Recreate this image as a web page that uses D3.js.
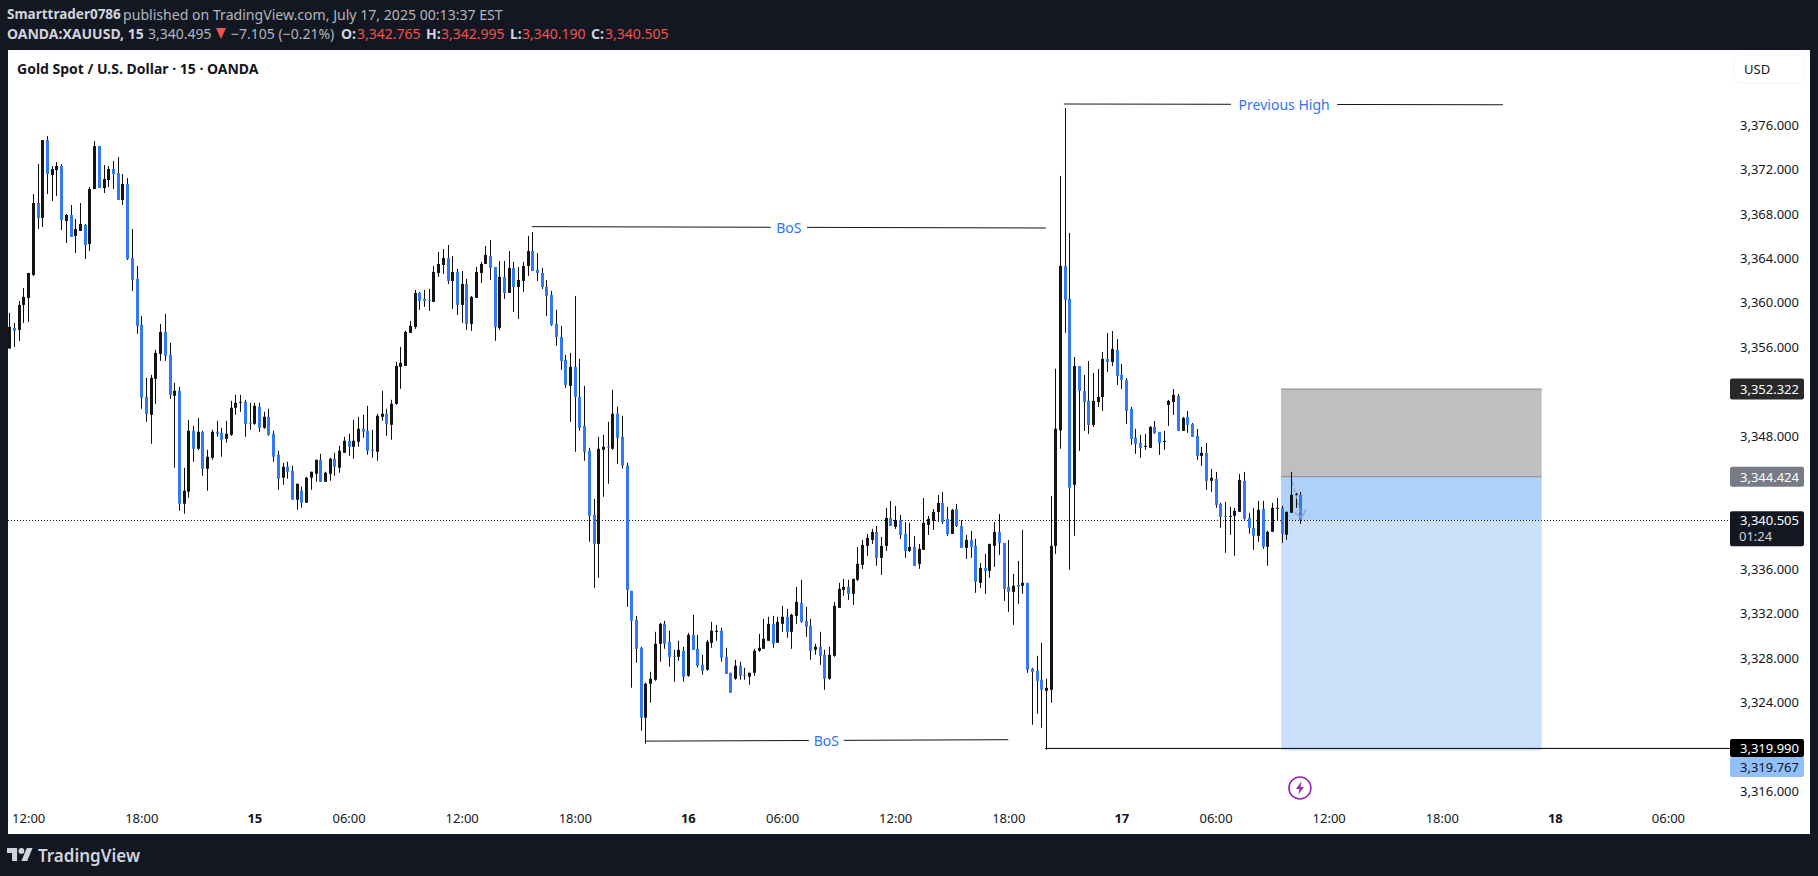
<!DOCTYPE html>
<html><head><meta charset="utf-8">
<style>html,body{margin:0;padding:0;background:#131722;overflow:hidden}svg{display:block}text{font-family:"Noto Sans",Roboto,sans-serif}</style>
<script src="https://cdnjs.cloudflare.com/ajax/libs/d3/7.9.0/d3.min.js"></script>
</head><body><svg id="c" width="1818" height="876"></svg>
<script>
const opens=[3355.97,3357.83,3357.65,3359.9,3360.53,3362.6,3369.08,3367.73,3374.75,3371.6,
3372.05,3372.41,3367.46,3368,3366.11,3366.56,3367.1,3365.39,3370.34,3374.21,
3370.43,3371.15,3372.14,3371.78,3369.35,3370.79,3364.13,3362.24,3358.1,3351.62,
3350,3353.24,3355.49,3357.47,3355.4,3351.71,3352.16,3341.99,3343.07,3348.56,
3346.94,3348.47,3345.14,3346.13,3348.47,3348.38,3347.84,3348.2,3350.63,3351.08,
3351.17,3349.28,3349.19,3350.72,3348.83,3349.82,3348.29,3346.4,3344.33,3345.32,
3344.96,3342.35,3343.16,3342.08,3344.33,3344.69,3345.95,3343.97,3344.69,3346.04,
3345.23,3346.58,3347.66,3347.12,3347.57,3348.74,3348.56,3346.85,3346.67,3349.82,
3350.09,3349.1,3350.99,3354.32,3354.41,3357.38,3357.92,3360.98,3360.44,3360.35,
3360.17,3362.78,3363.5,3364.13,3362.06,3362.87,3359.9,3361.79,3358.19,3360.53,
3362.78,3363.59,3364.31,3363.32,3357.83,3362.42,3360.98,3363.23,3361.52,3362.06,
3363.41,3364.76,3363.05,3362.78,3361.52,3360.8,3358.19,3357.02,3354.95,3352.61,
3354.32,3351.62,3349.01,3346.76,3340.98,3338.37,3346.85,3347.12,3346.94,3350.09,
3348.02,3345.41,3334.14,3331.53,3329.01,3322.71,3325.77,3326.13,3329.37,3331.17,
3329.55,3328.29,3328.2,3328.74,3326.49,3330.18,3328.92,3327.48,3327.03,3329.46,
3330.45,3330.54,3328.2,3326.76,3326.22,3327.39,3326.58,3326.4,3326.76,3328.74,
3328.92,3329.64,3331.17,3329.46,3331.17,3331.8,3330.45,3331.89,3333.06,3331.44,
3330.99,3328.83,3329.1,3328.38,3326.22,3328.29,3332.61,3334.23,3334.5,3333.87,
3335.13,3336.48,3338.19,3338.73,3339.45,3337.11,3338.19,3340.71,3339.9,3340.53,
3339.27,3337.74,3338.1,3336.57,3337.83,3340.08,3340.44,3341.25,3342.06,3340.62,
3339.27,3341.52,3339.99,3338.01,3338.73,3338.19,3334.86,3336.21,3335.94,3338.19,
3339.45,3338.46,3334.5,3334.05,3334.68,3334.59,3334.86,3327.12,3326.94,3326.13,
3325.14,3325.23,3338.19,3348.6,3363.42,3360.45,3343.69,3354.4,3352.15,3351.25,
3349.09,3351.16,3351.61,3355.03,3354.76,3355.84,3353.59,3353.14,3350.53,3347.92,
3347.47,3347.11,3347.02,3348.91,3348.46,3347.56,3350.89,3351.16,3351.7,3348.55,
3349.81,3349.18,3348.1,3346.3,3346.57,3344.05,3344.23,3341.98,3340.9,3340.81,
3340.9,3341.26,3344.05,3340.72,3339.82,3339.1,3341.53,3338.11,3339.46,3341.53,
3341.62,3339.19,3341.17,3342.79,3342.79];
const highs=[3359.18,3358.28,3360.26,3361.43,3362.78,3369.89,3372.59,3374.75,3375.11,3372.41,
3372.77,3372.59,3368.09,3368.9,3367.64,3369.08,3367.19,3370.52,3374.66,3374.21,
3372.5,3372.41,3372.86,3373.22,3371.69,3371.33,3366.74,3363.41,3358.91,3353.33,
3353.6,3355.85,3358.19,3359.09,3356.48,3352.88,3352.52,3345.23,3349.55,3349.01,
3349.73,3348.56,3346.85,3348.65,3349.46,3348.83,3349.46,3351.26,3351.8,3351.8,
3351.35,3351.08,3351.08,3351.08,3350.27,3350.54,3348.56,3346.76,3345.68,3345.77,
3345.41,3343.79,3343.52,3344.42,3344.87,3345.95,3346.49,3344.87,3346.13,3346.58,
3347.21,3348.02,3348.29,3349.55,3349.82,3350,3350.81,3348.65,3350.09,3352.16,
3350.54,3351.35,3354.77,3356.12,3357.56,3358.46,3361.25,3361.07,3361.25,3361.34,
3363.41,3364.67,3364.94,3365.3,3364.31,3363.14,3362.96,3362.24,3360.71,3363.32,
3363.77,3365.21,3365.75,3363.32,3363.86,3363.86,3364.76,3363.77,3363.32,3363.77,
3366.11,3366.47,3364.58,3363.23,3362.15,3361.16,3359.45,3358.01,3355.4,3355.58,
3360.71,3355.04,3352.61,3347.03,3342.42,3348.02,3348.2,3349.37,3352.25,3350.72,
3349.91,3345.68,3334.14,3331.89,3329.1,3325.86,3326.85,3330.45,3331.26,3331.44,
3330.54,3328.83,3329.64,3329.1,3330.36,3331.98,3330.18,3328.38,3329.73,3331.35,
3331.08,3330.81,3329.01,3326.76,3327.93,3327.75,3327.21,3326.76,3328.92,3330.27,
3331.62,3331.8,3331.89,3331.8,3332.79,3332.52,3332.07,3334.5,3335.13,3332.7,
3331.62,3329.37,3330.45,3328.83,3329.1,3333.15,3334.86,3335.22,3335.13,3335.22,
3338.1,3338.73,3339.27,3339.72,3339.99,3339,3341.61,3342.24,3341.79,3340.98,
3340.35,3340.26,3339.09,3338.37,3342.51,3340.89,3341.52,3342.78,3343.05,3341.7,
3341.52,3341.97,3340.53,3339.18,3339.54,3338.82,3336.66,3337.47,3338.37,3340.35,
3341.07,3338.46,3338.73,3335.67,3336.84,3339.63,3334.86,3327.21,3328.29,3329.46,
3326.22,3342.69,3354.15,3371.52,3377.64,3366.39,3355.21,3354.4,3353.59,3354.85,
3353.77,3354.13,3355.66,3357.37,3357.55,3356.83,3354.58,3353.32,3350.71,3348.73,
3348.19,3348.28,3349,3349.45,3348.46,3348.55,3351.34,3352.33,3351.88,3349.81,
3350.35,3349.27,3348.73,3347.11,3347.47,3345.13,3344.86,3342.07,3342.16,3341.71,
3341.62,3344.68,3344.86,3341.17,3341.62,3342.25,3342.25,3339.55,3342.07,3342.52,
3341.8,3341.26,3344.86,3342.97,3343.06];
const lows=[3355.97,3356.12,3356.66,3358.28,3358.37,3362.51,3366.74,3366.92,3369.89,3369.26,
3369.71,3366.65,3365.48,3366.02,3364.58,3366.56,3364.04,3364.76,3370.34,3370.43,
3369.98,3370.52,3370.34,3369.35,3368.9,3363.95,3361.16,3357.29,3350.54,3349.37,
3347.39,3350.99,3354.86,3354.86,3351.44,3345.23,3341.36,3341.09,3342.53,3345.77,
3346.85,3344.51,3343.16,3345.95,3348.02,3346.22,3347.48,3348.11,3350,3350.27,
3348.02,3348.65,3349.1,3348.47,3348.74,3348.11,3345.77,3343.25,3343.7,3344.24,
3342.35,3341.45,3341.63,3342.08,3343.25,3343.97,3343.97,3343.97,3344.06,3344.51,
3344.78,3346.58,3346.31,3346.04,3347.12,3347.93,3346.4,3346.13,3345.86,3349.46,
3348.11,3347.75,3350.9,3352.34,3354.41,3357.38,3357.74,3359.45,3359.72,3359.36,
3360.17,3362.42,3362.69,3361.79,3359.54,3359,3358.28,3357.65,3357.56,3360.53,
3361.88,3363.59,3362.15,3356.66,3357.65,3360.44,3360.98,3359.27,3358.64,3361.07,
3362.51,3362.96,3362.06,3361.34,3358.91,3358.01,3356.21,3354.05,3352.43,3349.37,
3346.67,3348.56,3345.86,3338.57,3334.41,3335.31,3342.62,3343.79,3346.85,3345.59,
3345.14,3332.7,3325.41,3327.66,3321.54,3320.37,3324.06,3326.04,3327.75,3328.92,
3327.3,3325.95,3327.84,3325.95,3326.4,3328.83,3327.21,3326.58,3326.94,3329.01,
3329.64,3327.75,3326.67,3324.96,3326.13,3326.13,3326.13,3325.68,3326.49,3328.65,
3328.92,3329.64,3329.01,3329.46,3330.45,3329.91,3328.92,3331.17,3331.26,3330,
3327.93,3328.38,3327.48,3325.23,3326.13,3328.2,3332.61,3333.69,3333.33,3332.88,
3335.04,3336.12,3337.29,3338.37,3336.39,3335.58,3337.74,3339.99,3339.72,3338.82,
3337.11,3337.65,3336.39,3336.12,3337.83,3339.18,3339.63,3340.35,3340.17,3339.09,
3339.27,3339.9,3338.01,3337.02,3337.11,3333.96,3334.41,3333.87,3335.31,3336.3,
3337.38,3333.24,3332.25,3331.08,3332.97,3333.87,3326.76,3322.08,3323.07,3321.81,
3319.83,3324.06,3337.47,3346.95,3357.39,3336.04,3339.1,3346.75,3348.55,3348.28,
3348.91,3350.71,3350.35,3353.86,3354.4,3352.69,3352.33,3349.18,3347.29,3346.48,
3346.12,3346.84,3347.02,3348.28,3346.39,3346.84,3349,3349.99,3348.55,3348.55,
3348.37,3348.01,3345.94,3345.4,3343.24,3343.06,3341.62,3339.82,3337.57,3339.19,
3337.3,3341.26,3340.54,3339.28,3337.84,3338.56,3337.93,3336.4,3339.46,3340.45,
3338.47,3338.74,3341.17,3341.62,3340.18];
const closes=[3357.92,3357.56,3359.9,3360.62,3362.78,3369.08,3367.73,3374.75,3371.69,3372.14,
3372.41,3367.55,3368,3366.02,3366.74,3367.19,3365.3,3370.34,3374.21,3370.43,
3371.24,3372.14,3371.69,3369.35,3370.79,3364.04,3362.15,3358.01,3351.53,3350.09,
3353.33,3355.58,3357.47,3355.31,3351.8,3352.16,3341.99,3343.16,3348.56,3346.94,
3348.47,3345.14,3346.22,3348.47,3348.29,3347.75,3348.29,3350.63,3351.08,3351.17,
3349.19,3349.19,3350.81,3348.83,3349.82,3348.2,3346.22,3344.24,3345.32,3344.87,
3342.35,3343.79,3342.08,3344.33,3344.87,3345.95,3343.97,3344.78,3346.04,3345.32,
3346.76,3347.66,3347.12,3347.66,3348.74,3348.47,3346.76,3346.76,3349.91,3350.09,
3349.19,3350.99,3354.41,3354.68,3357.47,3358.01,3360.98,3360.26,3360.26,3360.26,
3362.87,3363.59,3364.13,3362.06,3362.87,3359.9,3361.79,3358.19,3360.62,3362.87,
3363.59,3364.4,3363.23,3357.92,3362.42,3360.98,3363.23,3361.52,3362.15,3363.41,
3364.76,3362.96,3362.78,3361.52,3360.71,3358.1,3357.02,3354.86,3352.7,3354.32,
3351.62,3348.83,3346.67,3340.91,3338.37,3346.94,3347.12,3347.03,3350.09,3347.93,
3345.41,3334.23,3331.44,3328.92,3322.71,3325.77,3326.22,3329.37,3331.17,3329.37,
3328.2,3328.2,3328.83,3326.4,3330.18,3328.83,3327.39,3326.94,3329.55,3330.54,
3330.54,3328.11,3326.67,3324.96,3327.39,3326.49,3326.49,3326.76,3328.74,3329.01,
3329.82,3331.17,3329.37,3331.35,3331.8,3330.45,3331.98,3333.15,3331.35,3330.9,
3328.74,3329.1,3328.29,3326.22,3328.38,3332.79,3334.32,3334.5,3333.87,3335.22,
3336.57,3338.28,3338.91,3339.45,3337.11,3338.19,3340.71,3339.99,3340.53,3339.18,
3337.74,3338.1,3336.39,3337.92,3340.26,3340.62,3341.25,3342.06,3340.35,3339.27,
3341.43,3339.99,3338.01,3338.73,3338.1,3334.95,3336.21,3335.94,3338.37,3339.45,
3338.46,3334.32,3334.05,3334.59,3334.5,3334.86,3327.03,3326.85,3326.04,3325.23,
3325.41,3338.19,3348.75,3363.42,3360.36,3343.44,3354.4,3352.15,3351.16,3349.09,
3351.25,3351.61,3355.03,3354.76,3355.93,3353.5,3353.14,3350.35,3347.83,3347.38,
3347.02,3347.2,3348.91,3348.37,3347.47,3347.65,3351.25,3351.79,3348.55,3349.72,
3349.09,3348.01,3346.3,3346.57,3344.05,3344.32,3341.89,3340.81,3340.81,3340.9,
3341.35,3344.14,3340.63,3339.82,3339.1,3341.44,3338.11,3339.46,3341.62,3341.62,
3339.28,3341.26,3342.79,3342.88,3340.54];

const priceTicks=[3376,3372,3368,3364,3360,3356,3348,3336,3332,3328,3324,3316];
const timeBars=[4,28,52,72,96,120,144,164,188,212,236,256,280,304,328,352];
const timeLabels=["12:00","18:00","15","06:00","12:00","18:00","16","06:00","12:00","18:00","17","06:00","12:00","18:00","18","06:00"];
const boldTimes=["15","16","17","18"];
const lastPrice=3340.505, stopPrice=3352.322, entryPrice=3344.424, targetPrice=3319.767, swingLow=3319.99;
const positionBars=[269.9,325.2];
const trendLabels=[
 {text:"Previous High",b0:223.8,b1:317,p0:3378.0,p1:3377.93,g0:259.3,g1:281.8},
 {text:"BoS",b0:110.9,b1:220,p0:3366.95,p1:3366.83,g0:161.6,g1:169.3},
 {text:"BoS",b0:134.9,b1:212,p0:3320.6,p1:3320.73,g0:169.7,g1:177.1}];

const INK="#131722",BLUE="#3179f5",CANDLE="#141414",W=1818,H=876;
const L=8,T=50,R=1810,B=834,AX=1730;
const x=d3.scaleLinear().domain([0,352]).range([9.3,9.3+352*4.712]);
const y=d3.scaleLinear().domain([3316,3376]).range([792.2,126.2]);
const fmt=d3.format(",.3f");
const svg=d3.select("#c");
svg.append("rect").attr("width",W).attr("height",H).attr("fill","#131722");
svg.append("rect").attr("x",L).attr("y",T).attr("width",R-L).attr("height",B-T).attr("fill","#fff");
svg.append("defs").append("clipPath").attr("id","pane").append("rect").attr("x",L).attr("y",T).attr("width",AX-L).attr("height",B-T-30);

// header
function txt(g,s,px,py,o={}){return g.append("text").attr("x",px).attr("y",py).text(s)
  .attr("font-size",o.size||13).attr("font-weight",o.w||400).attr("fill",o.c||"#d1d4dc").attr("text-anchor",o.a||"start").attr("dominant-baseline","central");}
const head=svg.append("g");
txt(head,"Smarttrader0786",7,14,{w:700,size:13.5});
txt(head,"published on TradingView.com, July 17, 2025 00:13:37 EST",123,14,{c:"#b2b5be",size:14.1});
txt(head,"OANDA:XAUUSD, 15",7,33,{w:700,size:14});
txt(head,"3,340.495",148,33,{c:"#b2b5be",size:14});
head.append("path").attr("d","M216 28h10l-5 11z").attr("fill","#f05350");
txt(head,"−7.105 (−0.21%)",231,33,{c:"#b2b5be",size:14});
[["O:",341,"3,342.765",357],["H:",426,"3,342.995",441],["L:",510,"3,340.190",522],["C:",591,"3,340.505",605]].forEach(d=>{
  txt(head,d[0],d[1],33,{w:700,size:14});txt(head,d[2],d[3],33,{c:"#f05350",size:14});});
txt(svg,"Gold Spot / U.S. Dollar · 15 · OANDA",17,68,{w:700,c:INK,size:14});

// position tool
const px0=x(positionBars[0]),px1=x(positionBars[1]);
const zones=[[stopPrice,entryPrice,"#bfbfbf"],[entryPrice,lastPrice,"#aed0f9"],[lastPrice,targetPrice,"#cae0fb"]];
svg.append("g").selectAll("rect").data(zones).join("rect")
 .attr("x",px0).attr("width",px1-px0).attr("y",d=>y(d[0])).attr("height",d=>y(d[1])-y(d[0])).attr("fill",d=>d[2]);
[stopPrice,entryPrice].forEach(p=>svg.append("line").attr("x1",px0).attr("x2",px1).attr("y1",y(p)).attr("y2",y(p)).attr("stroke","#8a8a8a").attr("stroke-width",1));

// last price line
svg.append("line").attr("x1",L).attr("x2",AX).attr("y1",Math.round(y(lastPrice))+.5).attr("y2",Math.round(y(lastPrice))+.5)
 .attr("stroke",INK).attr("stroke-width",1).attr("stroke-dasharray","1 2");

// candles
const bars=d3.range(opens.length).map(i=>({i,o:opens[i],h:highs[i],l:lows[i],c:closes[i]}));
const cg=svg.append("g").attr("clip-path","url(#pane)");
cg.selectAll("rect.w").data(bars).join("rect").attr("class","w")
 .attr("x",d=>Math.round(x(d.i))).attr("width",1).attr("y",d=>y(d.h)).attr("height",d=>y(d.l)-y(d.h)).attr("fill","#0d0d0d");
cg.selectAll("rect.b").data(bars).join("rect").attr("class","b")
 .attr("x",d=>Math.round(x(d.i))-1).attr("width",3)
 .attr("y",d=>y(Math.max(d.o,d.c))).attr("height",d=>Math.max(1,y(Math.min(d.o,d.c))-y(Math.max(d.o,d.c))))
 .attr("fill",d=>d.c<d.o?BLUE:CANDLE);

// faint hint arrow at the last bars
const arrowBars=[272.3,274.3];
svg.append("path").attr("d",`M${x(arrowBars[0])} ${y(3344)}L${x(arrowBars[1])} ${y(3340.7)}`).attr("stroke","#8fa3bd").attr("stroke-width",1.2).attr("stroke-dasharray","4 3").attr("fill","none");
svg.append("path").attr("d",`M${x(arrowBars[1])-7} ${y(3341.2)}L${x(arrowBars[1])} ${y(3340.7)}L${x(arrowBars[1])+4} ${y(3341.5)}`).attr("stroke","#8fa3bd").attr("stroke-width",1.2).attr("fill","none");

// trend lines with labels
trendLabels.forEach(t=>{
  const sl=(t.p1-t.p0)/(t.b1-t.b0),pAt=b=>t.p0+sl*(b-t.b0);
  [[t.b0,t.g0],[t.g1,t.b1]].forEach(s=>svg.append("line").attr("x1",x(s[0])).attr("x2",x(s[1])).attr("y1",y(pAt(s[0]))).attr("y2",y(pAt(s[1]))).attr("stroke",INK).attr("stroke-width",1));
  txt(svg,t.text,x((t.g0+t.g1)/2),y(pAt((t.g0+t.g1)/2)),{size:14,c:"#2f74f0",a:"middle"});
});
svg.append("line").attr("x1",x(219.8)).attr("x2",AX).attr("y1",y(swingLow)+.5).attr("y2",y(swingLow)+.5).attr("stroke","#000").attr("stroke-width",1);

// lightning
const bolt=svg.append("g").attr("transform",`translate(${x(273.9)},788)`);
bolt.append("circle").attr("r",11).attr("fill","#fff").attr("stroke","#9c27b0").attr("stroke-width",1.6);
bolt.append("path").attr("d","M1.5-6.5L-4 1h3.5L-1.5 6.5L4-1H.5z").attr("fill","#9c27b0");

// axes
const ay=svg.append("g").attr("transform",`translate(${AX},0)`).call(d3.axisRight(y).tickValues(priceTicks).tickSize(0).tickFormat(fmt));
ay.select(".domain").remove();
ay.selectAll("text").attr("x",69).attr("dy","0").attr("dominant-baseline","central").attr("text-anchor","end").attr("font-size",13).attr("fill",INK).attr("transform","translate(0,-2)").style("font-family",'"Noto Sans"');
const ax=svg.append("g").attr("transform","translate(0,818)").call(d3.axisBottom(x).tickValues(timeBars).tickSize(0).tickFormat((d,i)=>timeLabels[i]));
ax.select(".domain").remove();
ax.selectAll("text").attr("y",0).attr("dy","0").attr("dominant-baseline","central").attr("font-size",13).attr("fill",INK)
 .attr("font-weight",(d,i)=>boldTimes.includes(timeLabels[i])?700:400).style("font-family",'"Noto Sans"');

// price labels
const AL=[[stopPrice,"#292929","#fff",21],[entryPrice,"#787b86","#fff",20],[swingLow,"#000","#fff",18],[targetPrice,"#90bff9",INK,20]];
const pl=svg.append("g");
AL.forEach(d=>{const c=d[0]===targetPrice?767:y(d[0]);
  pl.append("rect").attr("x",AX).attr("width",74).attr("y",c-d[3]/2).attr("height",d[3]).attr("rx",2).attr("fill",d[1]);
  txt(pl,fmt(d[0]),AX+69,c,{a:"end",c:d[2]});});
pl.append("rect").attr("x",AX).attr("width",74).attr("y",y(lastPrice)-9).attr("height",35).attr("rx",2).attr("fill","#131722");
txt(pl,fmt(lastPrice),AX+69,y(lastPrice)-.5,{a:"end",c:"#fff"});
txt(pl,"01:24",AX+9,y(lastPrice)+16,{c:"#d1d4dc"});

// USD
svg.append("rect").attr("x",1734).attr("y",55).attr("width",70).attr("height",28).attr("rx",6).attr("fill","#fff").attr("stroke","#f0f3fa");
txt(svg,"USD",1744,69,{c:INK});

// footer
const lg=svg.append("g").attr("transform","translate(7,845.2) scale(.72)").attr("fill","#d1d4dc");
lg.append("path").attr("d","M14 22H7V11H0V4h14v18zM28 22h-8l7.5-18h8L28 22z");lg.append("circle").attr("cx",20).attr("cy",8).attr("r",4);
txt(svg,"TradingView",38,855,{size:17,w:600});
</script></body></html>
